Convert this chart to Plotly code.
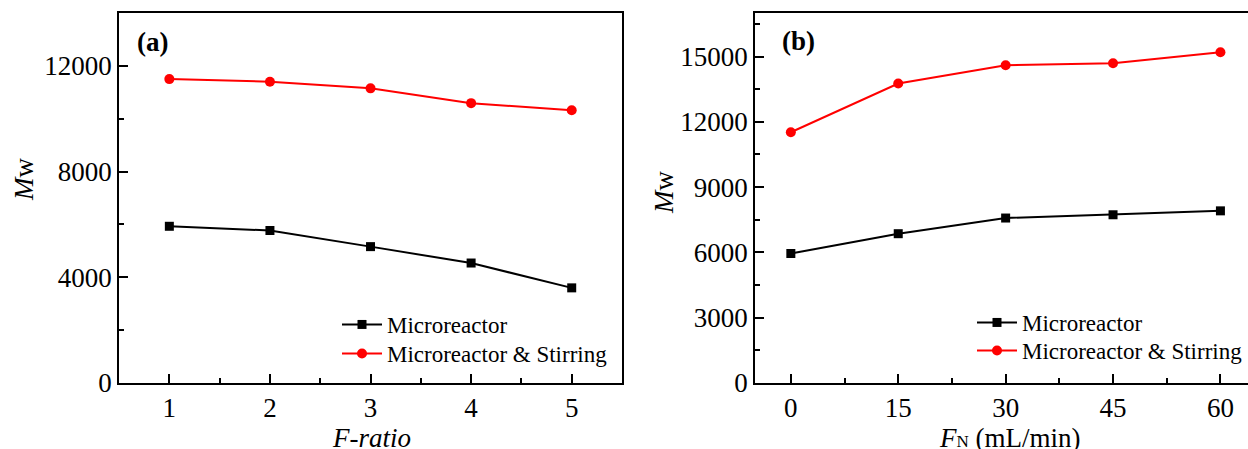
import plotly.graph_objects as go

# Data
f_ratio = [1, 2, 3, 4, 5]
a_micro = [5930, 5770, 5160, 4540, 3600]
a_stir = [11500, 11400, 11150, 10590, 10320]

fn = [0, 15, 30, 45, 60]
b_micro = [5950, 6860, 7580, 7730, 7910]
b_stir = [11520, 13760, 14600, 14690, 15200]

a_yticks = [0, 4000, 8000, 12000]
b_yticks = [0, 3000, 6000, 9000, 12000, 15000]

names = ["Microreactor", "Microreactor & Stirring"]
FONT = "Liberation Serif"
W, H = 1248, 449

fig = go.Figure()
sq = dict(symbol="square", size=9, color="black")
ci = dict(symbol="circle", size=10, color="red")

fig.add_trace(go.Scatter(x=f_ratio, y=a_micro, mode="lines+markers", name=names[0],
                         line=dict(color="black", width=2), marker=sq, xaxis="x", yaxis="y", legend="legend"))
fig.add_trace(go.Scatter(x=f_ratio, y=a_stir, mode="lines+markers", name=names[1],
                         line=dict(color="red", width=2), marker=ci, xaxis="x", yaxis="y", legend="legend2"))
fig.add_trace(go.Scatter(x=fn, y=b_micro, mode="lines+markers", name=names[0],
                         line=dict(color="black", width=2), marker=sq, xaxis="x2", yaxis="y2", legend="legend3"))
fig.add_trace(go.Scatter(x=fn, y=b_stir, mode="lines+markers", name=names[1],
                         line=dict(color="red", width=2), marker=ci, xaxis="x2", yaxis="y2", legend="legend4"))

def ax(**kw):
    d = dict(showline=True, linecolor="black", linewidth=2, ticks="inside", ticklen=9, tickwidth=1.5,
             tickcolor="black", showgrid=False, zeroline=False, tickformat="d", automargin=False,
             tickfont=dict(family=FONT, size=27, color="black"))
    d.update(kw)
    return d

def leg(px_left, py_row):
    # py_row: desired vertical centre of the legend row, in pixels from top
    return dict(x=px_left / W, y=1 - (py_row - 21) / H, xanchor="left", yanchor="top",
                bgcolor="rgba(0,0,0,0)", font=dict(family=FONT, size=23, color="black"),
                itemwidth=40, tracegroupgap=0)

ydom = [0.147, 0.971]
fig.update_layout(
    width=W, height=H, margin=dict(l=0, r=0, t=0, b=0),
    paper_bgcolor="white", plot_bgcolor="white",
    font=dict(family=FONT, color="black", size=27),
    xaxis=ax(domain=[0.0954, 0.4984], range=[0.5, 5.5], tickvals=f_ratio, mirror=True, anchor="y",
             minor=dict(ticks="inside", ticklen=5, dtick=0.5, tick0=0.5, tickcolor="black")),
    yaxis=ax(domain=ydom, range=[0, 14000], tickvals=a_yticks, mirror=True, anchor="x",
             minor=dict(ticks="inside", ticklen=5, dtick=2000, tickcolor="black")),
    xaxis2=ax(domain=[0.605, 1.0], range=[-5, 63.85], tickvals=fn, mirror=True, anchor="y2",
              minor=dict(ticks="inside", ticklen=5, dtick=7.5, tick0=0, tickcolor="black")),
    yaxis2=ax(domain=ydom, range=[0, 17000], tickvals=b_yticks, mirror=False, anchor="x2",
              minor=dict(ticks="inside", ticklen=5, dtick=1500, tickcolor="black")),
    legend=leg(337, 324),
    legend2=leg(337, 353),
    legend3=leg(972, 322),
    legend4=leg(972, 350),
    showlegend=True,
)

def ann(text, px, py, angle=0, xanchor="center"):
    fig.add_annotation(text=text, x=px / W, y=1 - py / H, xref="paper", yref="paper",
                       xanchor=xanchor, yanchor="middle", showarrow=False, textangle=angle,
                       font=dict(family=FONT, size=27, color="black"))

ann("<b>(a)</b>", 135, 42, xanchor="left")
ann("<b>(b)</b>", 780, 41, xanchor="left")
ann("<i>M</i>w", 24, 179, angle=-90)
ann("<i>M</i>w", 664, 192, angle=-90)
ann("<i>F-ratio</i>", 371, 438)
ann("<i>F</i><span style='font-size:17px'>N</span> (mL/min)", 1010, 438)

fig.write_html("out.html")
